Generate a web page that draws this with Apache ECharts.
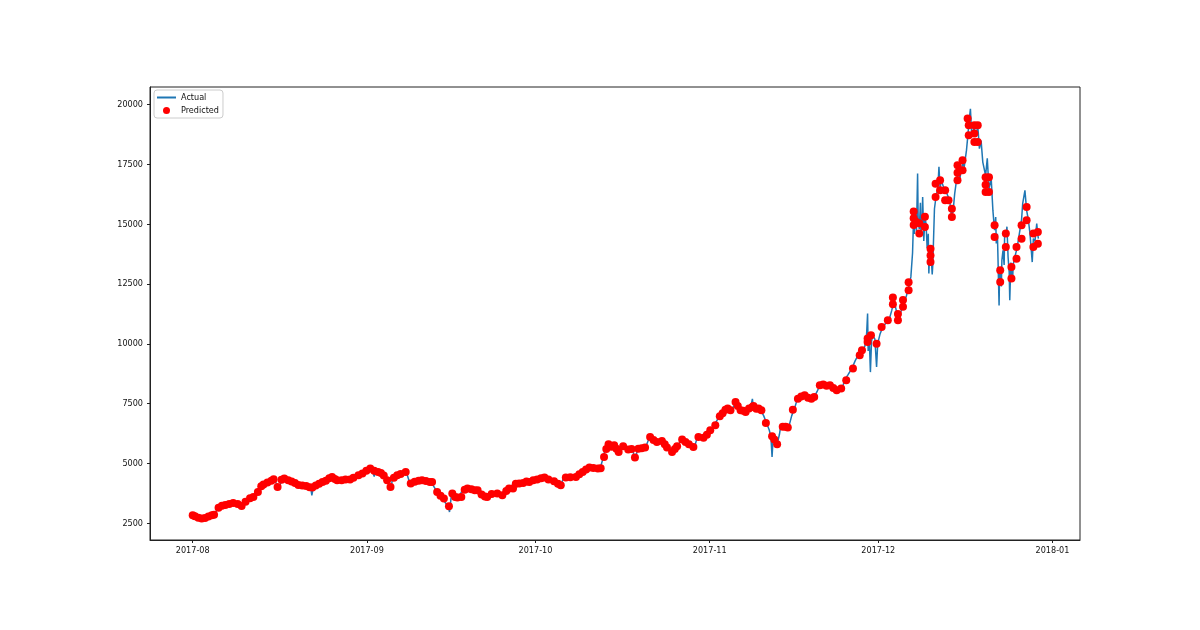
<!DOCTYPE html>
<html>
<head>
<meta charset="utf-8">
<script src="https://cdn.jsdelivr.net/npm/echarts@6/dist/echarts.min.js"></script>
<style>
html,body{margin:0;padding:0;background:#fff;}
#chart{width:1200px;height:630px;}
</style>
</head>
<body>
<div id="chart"></div>
<script>
// Origin of the day offsets used below
const startDate = '2017-08-01';
// X tick labels (month starts)
const monthLabels = ['2017-08', '2017-09', '2017-10', '2017-11', '2017-12', '2018-01'];
// Y tick labels
const yTicks = [2500, 5000, 7500, 10000, 12500, 15000, 17500, 20000];
const seriesNames = ['Actual', 'Predicted'];

// Actual: [day offset from startDate, price]
const actualPoints = [
[0,2830],[0.5,2760],[1,2720],[1.5,2700],[2,2730],[2.5,2760],[3,2790],[3.5,2840],[4,2900],[4.5,3150],[5,3230],[6,3270],[7,3340],[7.5,3370],[8,3330],[8.5,3220],[9,3330],[9.5,3450],[10,3540],[11,3680],[11.5,3830],[12,4000],[12.5,4080],[13,4200],[13.5,4250],[14,4300],[14.5,4350],[15,4100],[15.2,3900],[15.5,4080],[16,4380],[16.5,4310],[17,4280],[18,4200],[18.5,4100],[19,4100],[20,4060],[20.5,4020],[21,4000],[21.2,3670],[21.5,4050],[22,4120],[22.5,4170],[23,4250],[23.5,4300],[24,4330],[24.5,4440],[25,4380],[25.5,4300],[26,4300],[27,4330],[28,4330],[28.5,4400],[29,4450],[29.5,4550],[30,4600],[30.5,4700],[31,4780],[31.5,4830],[32,4680],[32.3,4450],[32.5,4650],[33,4640],[33.5,4600],[34,4450],[34.5,4300],[35,4100],[35.3,3950],[35.5,4300],[36,4450],[36.5,4500],[37,4560],[37.5,4620],[38,4650],[38.3,4600],[38.6,4200],[39,4160],[39.5,4250],[40,4200],[40.5,4300],[41,4280],[42,4230],[42.5,4200],[43,4000],[43.5,3800],[44,3650],[44.5,3500],[45,3350],[45.5,3200],[45.7,2970],[46,3600],[46.3,3800],[46.7,3600],[47,3600],[47.5,3650],[48,3900],[48.5,3950],[49,3900],[50,3850],[50.5,3800],[51,3700],[51.5,3620],[52,3600],[52.5,3600],[53,3750],[53.5,3760],[54,3700],[54.5,3720],[55,3700],[55.5,3900],[56,3950],[56.5,3930],[57,4150],[58,4150],[58.5,4170],[59,4200],[59.5,4300],[60,4250],[60.5,4340],[61,4330],[61.5,4400],[62,4420],[62.5,4350],[63,4300],[64,4250],[64.5,4200],[65,4120],[65.5,4080],[66,4400],[66.5,4410],[67,4420],[68,4450],[68.5,4550],[69,4650],[69.5,4700],[70,4780],[70.5,4840],[71,4810],[72,4780],[72.5,4790],[73,5200],[73.3,5500],[73.6,5800],[74,5750],[74.5,5650],[75,5770],
[75.3,5600],[75.8,5480],[76.3,5650],[76.8,5720],[77.3,5600],[77.8,5550],[78.3,5620],[78.6,5200],[78.8,5300],[79.3,5620],[79.8,5650],[80.3,5660],[80.8,5800],[81.3,6100],[81.8,6000],[82.3,5900],[82.8,5920],[83.3,5940],[83.8,5800],[84.3,5680],[84.8,5550],[85.3,5480],[85.8,5600],[86.3,5720],[86.8,5950],[87.3,6000],[87.8,5850],[88.3,5800],[88.8,5720],[89.3,5690],[89.8,6100],[90.3,6080],[90.8,6100],[91.3,6120],[91.8,6350],[92.3,6450],[92.8,6600],[93.3,6800],[93.8,7000],[94.3,7100],[94.8,7250],[95.3,7300],[95.8,7200],[96.3,7400],[96.6,7600],[96.8,7450],[97.3,7220],[97.8,7200],[98.3,7150],[98.8,7250],[99.3,7350],[99.6,7700],[99.8,7300],
[100.1,7290],[100.6,7300],[101.1,7220],[101.6,7000],[102.1,6700],[102.6,6400],[102.9,6100],[103.1,5270],[103.3,6100],[103.6,6000],[104.0,5800],[104.4,6200],[104.6,6500],[105.1,6530],[105.6,6500],[106.1,6550],[106.6,7000],[107.1,7300],[107.6,7700],[108.1,7800],[108.6,7850],[109.6,7750],[110.1,7710],[110.6,7780],[111.1,8000],[111.6,8270],[112.6,8250],[113.4,8270],[114.1,8150],[114.6,8060],[115.1,8100],[115.6,8150],[116.0,8480],[116.6,8700],[117.3,8970],[117.9,9300],[118.4,9520],[119.2,9730],[119.6,9900],[119.9,10300],[120.1,11270],[120.2,9700],[120.4,10220],[120.6,8820],[120.8,10100],[121.0,10360],[121.4,10200],[121.7,9030],[121.9,10010],[122.3,10400],[122.8,10710],[123.3,10850],[123.9,10990],[124.4,11400],[124.8,11830],
[125.2,11400],[125.7,11140],[126.1,11400],[126.6,11750],[127.0,12000],[127.5,12450],[127.8,12800],[128.1,13800],[128.3,15400],[128.4,14600],[128.6,15600],[128.8,14700],[129.0,17120],[129.1,15200],[129.3,14800],[129.5,15900],[129.6,14610],[129.8,15200],[129.9,16140],[130.1,14300],[130.3,15300],[130.5,15030],[130.7,14000],[130.9,14600],[131.0,12940],[131.2,14100],[131.4,13700],[131.6,12900],[131.7,13300],[132.0,15650],[132.3,16200],[132.6,16490],[132.8,17400],[133.0,16500],[133.2,16840],[133.7,16500],[134.1,16350],[134.7,16000],[135.0,15400],[135.3,15510],[135.6,16280],[135.9,16800],[136.2,17190],[136.5,16900],[137.0,17540],[137.3,17400],[137.7,18100],[137.9,18600],[138.2,19420],[138.4,19830],[138.6,18860],[139.1,19000],[139.4,18650],[139.7,19140],[140.0,18160],[140.3,18500],[140.6,17600],[141.1,17040],[141.4,17760],[141.7,16490],[142.1,16900],[142.4,15580],[142.6,15000],[142.7,14750],[142.9,15300],[143.0,14200],[143.2,14600],[143.3,13630],[143.5,11610],[143.6,13200],[143.7,12870],[143.9,12400],[144.0,13500],[144.2,13910],[144.4,13300],[144.5,14700],[144.7,14470],[144.9,14900],[145.1,13630],[145.3,13000],[145.4,11820],[145.6,13400],[145.7,13010],[145.9,12600],[146.0,13300],[146.3,13630],[146.6,13910],[146.9,14300],[147.2,14750],[147.5,15200],[147.7,15860],[148.1,16420],[148.4,15580],[148.7,15200],[149.0,14610],[149.4,13420],[149.6,14400],[149.9,14300],[150.2,15030],[150.4,14540],[150.5,14400]
];

// Predicted: [day offset from startDate, price]
const predictedPoints = [
[0,2830],[0.4,2790],[1,2730],[1.6,2700],[2.2,2720],[2.8,2780],[3.4,2830],[3.8,2860],[4.6,3150],[5.2,3230],[5.8,3260],[6.5,3300],[7.2,3350],[8,3300],[8.7,3220],[9.4,3400],[10.2,3545],[10.8,3600],[11.6,3810],[12.2,4050],[12.6,4120],[13.3,4200],[14,4280],[14.4,4340],[15.1,4020],[15.8,4320],[16.3,4370],[17,4300],[17.6,4250],[18.2,4180],[18.8,4100],[19.5,4080],[20.2,4060],[20.8,4010],[21.3,3990],[21.9,4080],[22.5,4150],[23.1,4230],[23.7,4280],[24.3,4380],[24.8,4435],[25.3,4350],[25.7,4300],[26.5,4300],[27.2,4330],[28,4330],[28.6,4400],[29.5,4506],[30.2,4580],[30.9,4700],[31.6,4786],[32.3,4700],[33,4645],[33.5,4600],[34,4500],[34.6,4300],[35.2,4020],[35.8,4400],[36.4,4506],[37,4560],[37.9,4645],[38.8,4160],[39.5,4240],[40.2,4280],[40.8,4300],[41.5,4270],[42.2,4230],[42.6,4230],[43.5,3810],[44.1,3650],[44.7,3530],[45.6,3210],[46.2,3740],[46.7,3600],[47.1,3575],[47.8,3600],[48.4,3900],[48.9,3950],[49.6,3920],[50.2,3880],[50.7,3880],[51.4,3700],[52.0,3620],[52.4,3600],[53.2,3720],[54.2,3740],[55.1,3670],[55.8,3850],[56.3,3950],[57,3950],[57.5,4150],[58.1,4160],[58.8,4180],[59.4,4250],[59.9,4230],[60.6,4300],[61.3,4330],[62,4380],[62.6,4410],[63.3,4330],[64.3,4255],[65,4150],[65.5,4090],[66.4,4410],[67.2,4420],[68.2,4435],[68.8,4550],[69.4,4645],[70,4750],[70.6,4830],[71.3,4810],[72.1,4786],[72.6,4800],[73.2,5270],[73.6,5600],[74,5800],[74.5,5700],[75.0,5760],
[75.4,5620],[75.8,5480],[76.6,5720],[77.5,5580],[78.1,5600],[78.7,5246],[79.3,5620],[79.9,5640],[80.5,5665],[81.4,6110],[82.0,5980],[82.6,5900],[83.5,5940],[84.0,5800],[84.4,5665],[85.3,5480],[85.8,5600],[86.2,5720],[87.1,6000],[87.7,5900],[88.3,5800],[89.1,5690],[90.0,6110],[90.9,6080],[91.5,6200],[92.1,6390],[93.0,6600],[93.8,6970],[94.3,7100],[94.8,7250],[95.2,7300],[95.7,7220],[96.6,7570],[97.0,7400],[97.5,7220],[98.0,7200],[98.4,7150],[99.0,7300],[99.6,7360],
[99.8,7400],[100.3,7290],[100.7,7300],[101.2,7220],[102.0,6690],[103.1,6140],[103.5,6000],[104.0,5800],[105.0,6530],[105.5,6530],[105.9,6500],[106.8,7250],[107.7,7710],[108.3,7800],[108.9,7850],[109.5,7750],[110.1,7710],[110.6,7780],[111.6,8270],[112.2,8300],[112.8,8250],[113.4,8270],[114.0,8150],[114.6,8060],[115.4,8130],[116.3,8480],[117.5,8970],[118.7,9520],[119.1,9730],[120.1,10220],[120.1,10080],[120.7,10360],[121.7,10010],[122.6,10710],[123.7,10990],[124.6,11940],[124.6,11660],
[125.5,11250],[125.5,10990],[126.4,11830],[126.4,11550],[127.4,12580],[127.4,12240],[128.3,15530],[128.3,15250],[128.3,14970],[128.7,15110],[129.3,15040],[129.3,14610],[130.3,15310],[130.3,14890],[131.3,13980],[131.3,13700],[131.3,13420],[132.2,16700],[132.2,16140],[133.0,16840],[133.0,16420],[133.9,16420],[133.9,16000],[134.5,16000],[135.1,15650],[135.1,15300],[136.1,17470],[136.1,17150],[136.1,16840],[137.0,17680],[137.0,17260],[137.9,19420],[138.1,19140],[138.1,18720],[139.1,19140],[139.1,18800],[139.1,18440],[139.7,19140],[139.7,18440],[141.1,16970],[141.1,16650],[141.1,16350],[141.7,16970],[141.7,16350],[142.7,14960],[142.7,14470],[143.7,13080],[143.7,12590],[144.7,14610],[144.7,14050],[145.7,13210],[145.7,12730],[146.6,14050],[146.6,13560],[147.5,14960],[147.5,14400],[148.4,15720],[148.4,15170],[149.6,14610],[149.6,14050],[150.4,14680],[150.4,14190]
];

const DAY = 86400000;
const p0 = startDate.split('-').map(Number);
const t0 = Date.UTC(p0[0], p0[1] - 1, p0[2]);
const toTime = d => t0 + d * DAY;
const monthTimes = monthLabels.map(s => { const a = s.split('-').map(Number); return Date.UTC(a[0], a[1] - 1, 1); });

const font = '"DejaVu Sans Condensed", "DejaVu Sans", sans-serif';
const chart = echarts.init(document.getElementById('chart'), null, { renderer: 'canvas' });
chart.setOption({
  animation: false,
  backgroundColor: '#ffffff',
  grid: { left: 150, right: 120, top: 87, bottom: 90, show: true, borderColor: '#222', borderWidth: 1, backgroundColor: 'transparent' },
  legend: {
    orient: 'vertical', left: 154, top: 90,
    data: [
      { name: seriesNames[0], itemStyle: { color: 'transparent', borderWidth: 0 } },
      { name: seriesNames[1], icon: 'circle' }
    ],
    itemWidth: 19, itemHeight: 7, itemGap: 2,
    padding: [2, 4, 2, 2],
    borderColor: '#cccccc', borderWidth: 1, borderRadius: 3,
    backgroundColor: 'rgba(255,255,255,0.8)',
    textStyle: { fontFamily: font, fontSize: 9, lineHeight: 11, color: '#111' }
  },
  xAxis: {
    type: 'value',
    min: toTime(-7.6), max: toTime(157.9),
    splitLine: { show: false },
    axisLine: { show: true, lineStyle: { color: '#222', width: 1 } },
    axisTick: { show: true, length: 3, customValues: monthTimes, lineStyle: { color: '#222' } },
    axisLabel: {
      customValues: monthTimes, margin: 6, fontFamily: font, fontSize: 9, color: '#111',
      formatter: v => { const i = monthTimes.indexOf(v); return i >= 0 ? monthLabels[i] : ''; }
    }
  },
  yAxis: {
    type: 'value',
    min: 1800, max: 20740,
    splitLine: { show: false },
    axisLine: { show: true, lineStyle: { color: '#222', width: 1 } },
    axisTick: { show: true, length: 3, customValues: yTicks, lineStyle: { color: '#222' } },
    axisLabel: { customValues: yTicks, margin: 7, fontFamily: font, fontSize: 9, color: '#111', formatter: v => String(v) }
  },
  series: [
    {
      name: seriesNames[0], type: 'line', symbol: 'none', showSymbol: false,
      data: actualPoints.map(p => [toTime(p[0]), p[1]]),
      lineStyle: { color: '#1f77b4', width: 1.5 }, itemStyle: { color: '#1f77b4' }, z: 2
    },
    {
      name: seriesNames[1], type: 'scatter', symbol: 'circle', symbolSize: 8,
      data: predictedPoints.map(p => [toTime(p[0]), p[1]]),
      itemStyle: { color: '#ff0000', opacity: 1 }, z: 3
    }
  ]
});
</script>
</body>
</html>
